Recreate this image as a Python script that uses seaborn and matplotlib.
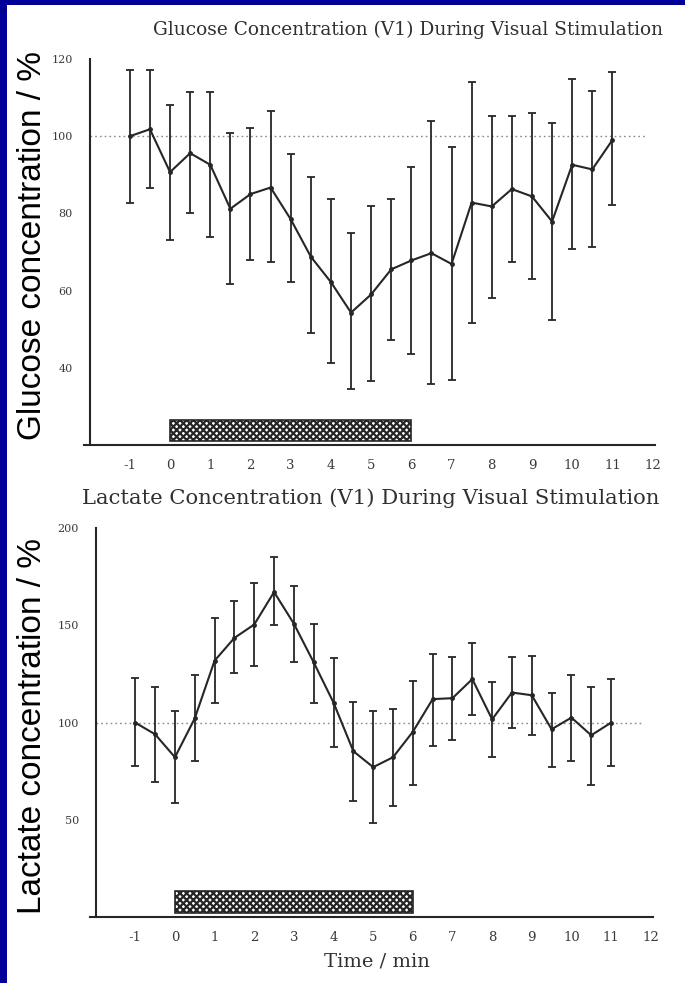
import matplotlib
matplotlib.use("Agg")
import matplotlib.pyplot as plt
from matplotlib.patches import Rectangle
import seaborn as sns
import pandas as pd

# Sampling times (min) relative to stimulus onset
time_min = [-1, -0.5, 0, 0.5, 1, 1.5, 2, 2.5, 3, 3.5, 4, 4.5, 5, 5.5,
            6, 6.5, 7, 7.5, 8, 8.5, 9, 9.5, 10, 10.5, 11]

# Glucose in V1 (% of baseline): mean with lower / upper error limits
glucose_mean = [100.0, 101.8, 90.7, 95.6, 92.6, 81.2, 85.0, 86.7, 78.5, 68.8,
                62.2, 54.3, 59.0, 65.5, 67.8, 69.7, 66.9, 82.8, 81.8, 86.3,
                84.4, 77.9, 92.6, 91.4, 99.0]
glucose_hi = [117.2, 117.2, 108.1, 111.4, 111.4, 100.9, 102.0, 106.5, 95.3, 89.5,
              83.7, 74.9, 81.9, 83.8, 92.0, 103.9, 97.1, 114.1, 105.3, 105.3,
              106.1, 103.4, 114.7, 111.8, 116.6]
glucose_lo = [82.6, 86.5, 73.0, 80.2, 73.8, 61.7, 68.0, 67.3, 62.1, 49.0,
              41.2, 34.5, 36.5, 47.1, 43.5, 35.9, 36.9, 51.6, 58.0, 67.5,
              63.0, 52.4, 70.8, 71.2, 82.2]

# Lactate in V1 (% of baseline): mean with lower / upper error limits
lactate_mean = [100.0, 94.0, 82.2, 102.2, 131.9, 143.6, 150.5, 167.2, 150.9, 131.0,
                110.3, 85.3, 77.1, 82.2, 95.3, 112.1, 112.6, 122.4, 101.7, 115.5,
                114.1, 96.6, 102.6, 93.5, 100.0]
lactate_hi = [122.9, 118.6, 106.0, 124.6, 154.0, 162.4, 171.9, 185.0, 170.2, 150.9,
              133.1, 110.8, 106.0, 106.9, 121.5, 135.3, 134.0, 141.0, 121.0, 134.0,
              134.5, 115.2, 124.5, 118.1, 122.7]
lactate_lo = [77.6, 69.3, 58.6, 80.2, 110.0, 125.5, 129.3, 150.0, 131.4, 110.0,
              87.4, 59.8, 48.3, 56.9, 68.1, 87.9, 90.9, 103.8, 82.2, 97.1,
              93.5, 77.2, 80.5, 67.8, 77.6]

# Visual stimulation period (min)
stim_start, stim_end = 0, 6

x_ticks = [-1, 0, 1, 2, 3, 4, 5, 6, 7, 8, 9, 10, 11, 12]
glucose_yticks = [40, 60, 80, 100, 120]
lactate_yticks = [50, 100, 150, 200]

glucose_title = "Glucose Concentration (V1) During Visual Stimulation"
lactate_title = "Lactate Concentration (V1) During Visual Stimulation"
glucose_ylabel = "Glucose concentration / %"
lactate_ylabel = "Lactate concentration / %"
time_label = "Time / min"

sns.set_style("white")
plt.rcParams["font.family"] = ["DejaVu Serif"]
plt.rcParams["hatch.linewidth"] = 1.6

INK = "#262626"
W, H = 685, 983

fig = plt.figure(figsize=(W / 100, H / 100), dpi=100)
fig.patch.set_facecolor("white")

# dark blue frame strips along the left and top edges
fig.patches.append(Rectangle((0, 0), 7 / W, 1, transform=fig.transFigure,
                             facecolor="#000099", edgecolor="none", zorder=0))
fig.patches.append(Rectangle((0, 1 - 5 / H), 1, 5 / H, transform=fig.transFigure,
                             facecolor="#000099", edgecolor="none", zorder=0))


def panel(rect, mean, lo, hi, ylim, yticks, bar_y, title, title_xy, title_size,
          ylabel, ylabel_xy):
    ax = fig.add_axes(rect)
    df = pd.DataFrame({"t": time_min, "v": mean})
    err_lo = [m - l for m, l in zip(mean, lo)]
    err_hi = [h - m for m, h in zip(mean, hi)]
    ax.errorbar(time_min, mean, yerr=[err_lo, err_hi], fmt="none",
                ecolor=INK, elinewidth=1.3, capsize=3.2, capthick=1.3, zorder=3)
    sns.lineplot(data=df, x="t", y="v", ax=ax, color=INK, linewidth=1.5,
                 marker="o", markersize=3.5, markeredgewidth=0, zorder=4)
    ax.hlines(100, -2, 11.8, colors="#8a8a8a", linestyles=(0, (1.2, 2.2)),
              linewidth=1.0, zorder=1)
    ax.bar(stim_start, bar_y[1] - bar_y[0], width=stim_end - stim_start,
           bottom=bar_y[0], align="edge", facecolor="white", edgecolor=INK,
           hatch="xxxxx", linewidth=1.2, zorder=2)
    ax.set_xlim(-2.15, 12.05)
    ax.set_ylim(*ylim)
    ax.spines["left"].set_position(("data", -2))
    for s in ("top", "right"):
        ax.spines[s].set_visible(False)
    for s in ("left", "bottom"):
        ax.spines[s].set_color(INK)
        ax.spines[s].set_linewidth(1.5)
    ax.set_xticks(x_ticks)
    ax.set_xticklabels([str(v) for v in x_ticks])
    ax.set_yticks(yticks)
    ax.set_yticklabels([str(v) for v in yticks])
    ax.tick_params(axis="both", direction="out", length=4, width=1.0,
                   color=INK, labelcolor="#3a3a3a")
    ax.tick_params(axis="x", labelsize=9.5, pad=6)
    ax.tick_params(axis="y", labelsize=8, pad=8)
    ax.set_xlabel("")
    ax.set_ylabel("")
    ax.patch.set_alpha(0)
    fig.text(title_xy[0] / W, 1 - title_xy[1] / H, title, ha="center",
             va="center", fontsize=title_size, color="#303030")
    fig.text(ylabel_xy[0] / W, 1 - ylabel_xy[1] / H, ylabel, rotation=90,
             ha="center", va="center", fontsize=24, color="black",
             family=["Liberation Sans", "DejaVu Sans"])
    return ax


ax1 = panel([83.6 / W, 1 - 445 / H, 571 / W, 386 / H],
            glucose_mean, glucose_lo, glucose_hi, (20, 120), glucose_yticks,
            (21, 26.5), glucose_title, (408, 30), 13.4,
            glucose_ylabel, (33, 245))

ax2 = panel([89.7 / W, 1 - 917 / H, 563 / W, 388.7 / H],
            lactate_mean, lactate_lo, lactate_hi, (0, 200), lactate_yticks,
            (2, 13.5), lactate_title, (371, 498), 15.2,
            lactate_ylabel, (33, 726))

fig.text(377 / W, 1 - 961 / H, time_label, ha="center", va="center",
         fontsize=14, color="#303030")

fig.savefig("out.png", dpi=100)
